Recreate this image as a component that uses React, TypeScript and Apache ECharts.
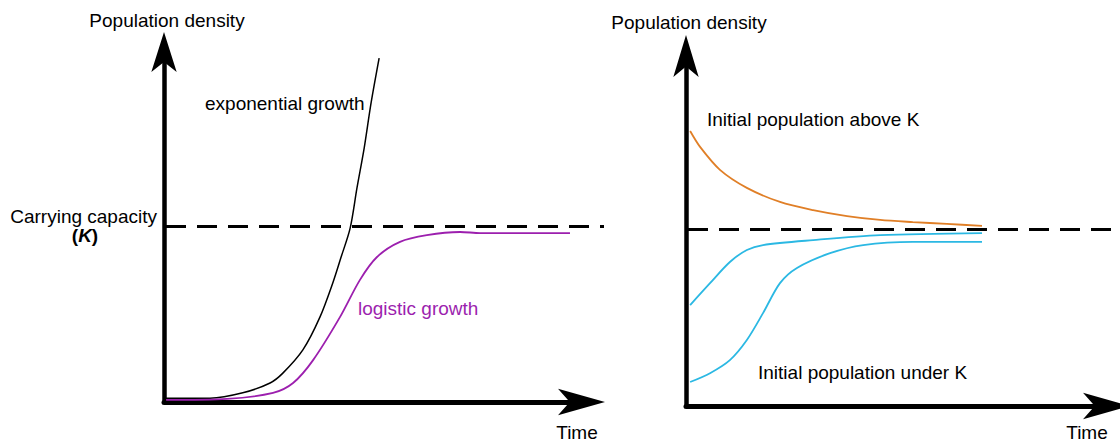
import React, { useEffect, useRef } from "react";
import * as echarts from "echarts";

// Left panel (time, density) in arbitrary units: time 0..100, density 0..100
const carryingCapacity = 50;

const exponentialGrowth: [number, number][] = [
  [0, 1.1], [10.8, 1.1], [18.5, 2.6], [24.9, 5.4], [27.9, 8.2], [32.6, 14.8],
  [36.6, 24.1], [39.7, 34.1], [41.5, 40.9], [43.7, 49.4], [45.3, 60.8],
  [47.0, 72.2], [48.6, 84.9], [50.5, 97.7],
];

const logisticGrowth: [number, number][] = [
  [0.5, 0.6], [14.8, 0.9], [25.6, 2.6], [30.3, 5.4], [35.0, 11.9], [41.3, 24.1],
  [46.0, 34.7], [50.0, 41.2], [55.4, 45.5], [61.7, 47.4], [69.5, 48.3],
  [74.2, 48.0], [95.3, 48.0],
];

// Right panel
const aboveK: [number, number][] = [
  [1.0, 77.9], [3.4, 73.4], [8.2, 66.9], [14.7, 61.8], [22.7, 57.8], [30.7, 55.5],
  [38.9, 53.8], [46.9, 52.7], [54.8, 52.1], [63.0, 51.6], [71.5, 51.0],
];

const underKHigh: [number, number][] = [
  [1.0, 28.6], [5.8, 34.8], [10.6, 40.8], [14.7, 44.2], [18.6, 45.6],
  [30.7, 47.0], [46.9, 48.4], [71.5, 49.0],
];

const underKLow: [number, number][] = [
  [1.0, 6.8], [5.8, 9.3], [10.6, 13.0], [14.7, 18.7], [18.6, 26.3], [22.7, 34.8],
  [26.8, 39.1], [34.8, 43.3], [42.8, 45.6], [54.8, 46.5], [71.5, 46.5],
];

const FONT = "'Liberation Sans', Arial, Helvetica, sans-serif";
const FS = 19;

function axisLineCfg(width: number, size: [number, number], offset: number) {
  return {
    show: true,
    onZero: false,
    symbol: ["none", "arrow"],
    symbolSize: size,
    symbolOffset: [0, offset],
    lineStyle: { color: "#000", width },
  };
}

function hiddenParts() {
  return {
    axisTick: { show: false },
    axisLabel: { show: false },
    splitLine: { show: false },
  };
}

function txt(text: string, x: number, y: number, align: string, color = "#000", extra: any = {}) {
  return {
    type: "text",
    x,
    y,
    style: {
      text,
      fill: color,
      fontSize: FS,
      fontFamily: FONT,
      align,
      verticalAlign: "middle",
      ...extra,
    },
  };
}

function curve(name: string, xi: number, data: [number, number][], color: string, width: number) {
  return {
    type: "line",
    name,
    xAxisIndex: xi,
    yAxisIndex: xi,
    data,
    smooth: 0.3,
    showSymbol: false,
    lineStyle: { color, width },
  };
}

export default function App() {
  const ref = useRef<HTMLDivElement>(null);
  useEffect(() => {
    if (!ref.current) return;
    const chart = echarts.init(ref.current, undefined, { renderer: "svg" });
    const dashStyle = { color: "#000", width: 3, type: [20, 11] as any };
    chart.setOption({
      animation: false,
      backgroundColor: "#fff",
      grid: [
        { left: 164, top: 50, width: 426, height: 352 },
        { left: 686, top: 53, width: 414, height: 353 },
      ],
      xAxis: [
        { type: "value", gridIndex: 0, min: 0, max: 100, axisLine: axisLineCfg(5, [20, 47], 15), ...hiddenParts() },
        { type: "value", gridIndex: 1, min: 0, max: 100, axisLine: axisLineCfg(5, [20, 47], 30), ...hiddenParts() },
      ],
      yAxis: [
        { type: "value", gridIndex: 0, min: 0, max: 100, axisLine: axisLineCfg(4.5, [19, 40], 18), ...hiddenParts() },
        { type: "value", gridIndex: 1, min: 0, max: 100, axisLine: axisLineCfg(4.5, [19, 42], 18), ...hiddenParts() },
      ],
      series: [
        {
          ...curve("exponential growth", 0, exponentialGrowth, "#000", 1.5),
          markLine: {
            silent: true,
            symbol: "none",
            label: { show: false },
            lineStyle: dashStyle,
            data: [[{ coord: [0, carryingCapacity], x: 166 }, { coord: [100, carryingCapacity], x: 604 }]],
          },
        },
        curve("logistic growth", 0, logisticGrowth, "#9c1fae", 1.8),
        {
          ...curve("Initial population above K", 1, aboveK, "#e07f27", 1.8),
          markLine: {
            silent: true,
            symbol: "none",
            label: { show: false },
            lineStyle: dashStyle,
            data: [[{ coord: [0, carryingCapacity], x: 688 }, { coord: [100, carryingCapacity], x: 1120 }]],
          },
        },
        curve("Initial population under K (high)", 1, underKHigh, "#2bb8e3", 1.8),
        curve("Initial population under K (low)", 1, underKLow, "#2bb8e3", 1.8),
      ],
      graphic: [
        txt("Population density", 167, 20, "center"),
        txt("exponential growth", 205, 103, "left"),
        txt("Carrying capacity", 157, 216, "right", "#000", { lineHeight: 16 }),
        {
          type: "text",
          x: 85,
          y: 235,
          style: {
            text: "({i|K})",
            fill: "#000",
            fontSize: FS,
            fontFamily: FONT,
            fontWeight: "bold",
            align: "center",
            verticalAlign: "middle",
            lineHeight: 16,
            rich: {
              i: { fontStyle: "italic", fontWeight: "bold", fontSize: FS, fontFamily: FONT, fill: "#000", lineHeight: 16 },
            },
          },
        },
        txt("logistic growth", 358, 308, "left", "#9c1fae"),
        txt("Time", 577, 432, "center"),
        txt("Population density", 689, 22, "center"),
        txt("Initial population above K", 707, 119, "left"),
        txt("Initial population under K", 758, 372, "left"),
        txt("Time", 1087, 432, "center"),
      ],
    });
    return () => chart.dispose();
  }, []);
  return (
    <div
      ref={ref}
      style={{ position: "fixed", left: 0, top: 0, width: 1120, height: 442, background: "#fff" }}
    />
  );
}
